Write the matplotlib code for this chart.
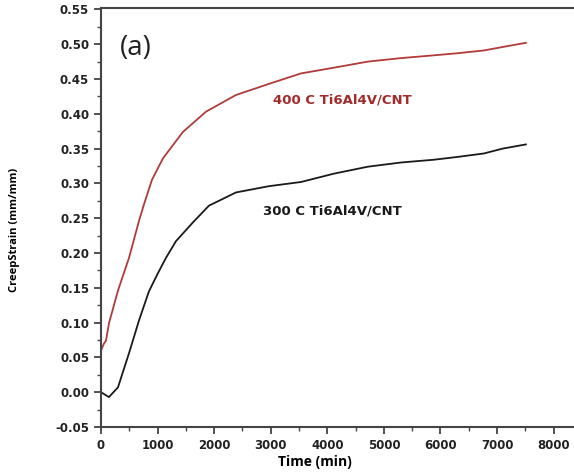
import matplotlib.pyplot as plt
from matplotlib.ticker import MultipleLocator

# 400 C curve (time in min, creep strain in mm/mm)
t_400 = [0, 53, 88, 141, 300, 495, 671, 760, 900, 1095, 1449, 1855, 2385,
         2968, 3534, 4100, 4717, 5300, 5883, 6300, 6767, 7100, 7510]
s_400 = [0.060, 0.070, 0.074, 0.099, 0.146, 0.193, 0.246, 0.270, 0.305,
         0.336, 0.374, 0.403, 0.427, 0.443, 0.458, 0.466, 0.475, 0.480,
         0.484, 0.487, 0.491, 0.496, 0.502]

# 300 C curve
t_300 = [0, 141, 300, 495, 671, 848, 1000, 1148, 1325, 1625, 1908, 2385,
         2968, 3534, 4117, 4717, 5300, 5883, 6300, 6767, 7100, 7510]
s_300 = [0.000, -0.007, 0.007, 0.056, 0.103, 0.145, 0.170, 0.193, 0.217,
         0.244, 0.268, 0.287, 0.296, 0.302, 0.314, 0.324, 0.330, 0.334,
         0.338, 0.343, 0.350, 0.356]


def main():
    fig = plt.figure(figsize=(5.74, 4.74), dpi=100)
    ax = fig.add_axes([101 / 574, 47 / 474, 473 / 574, 419 / 474])

    ax.plot(t_400, s_400, color="#b23a3a", lw=1.3)
    ax.plot(t_300, s_300, color="#1a1a1a", lw=1.3)

    ax.text(3040, 0.42, "400 C Ti6Al4V/CNT", color="#a52a2a", fontsize=9.5,
            family="DejaVu Sans", weight="bold", va="center")
    ax.text(2860, 0.26, "300 C Ti6Al4V/CNT", color="#1a1a1a", fontsize=9.5,
            family="DejaVu Sans", weight="bold", va="center")
    ax.text(0.04, 0.905, "(a)", transform=ax.transAxes, fontsize=20,
            family="Open Sans", color="#222222", va="center")

    ax.set_xlim(0, 8360)
    ax.set_ylim(-0.05, 0.552)
    ax.xaxis.set_major_locator(MultipleLocator(1000))
    ax.xaxis.set_minor_locator(MultipleLocator(500))
    ax.yaxis.set_major_locator(MultipleLocator(0.05))
    ax.yaxis.set_minor_locator(MultipleLocator(0.025))
    ax.yaxis.set_major_formatter(lambda v, p: f"{v:.2f}")

    for s in ["top", "left", "bottom"]:
        ax.spines[s].set_color("#444444")
        ax.spines[s].set_linewidth(1.5)
    ax.spines["right"].set_visible(False)
    ax.tick_params(which="major", length=5, width=1.3, color="#444444",
                   labelsize=8.5, labelcolor="#222222")
    ax.tick_params(which="minor", length=3, width=1.0, color="#444444")
    for lab in ax.get_xticklabels() + ax.get_yticklabels():
        lab.set_fontweight("bold")

    ax.set_xlabel("Time (min)", fontsize=10, family="Open Sans", weight="bold")
    ax.set_ylabel("CreepStrain (mm/mm)", fontsize=8, family="Open Sans",
                  weight="bold")
    ax.xaxis.set_label_coords(0.452, -0.068)
    ax.yaxis.set_label_coords(-0.171, 0.47)

    fig.savefig("out.png", dpi=100)


if __name__ == "__main__":
    main()
